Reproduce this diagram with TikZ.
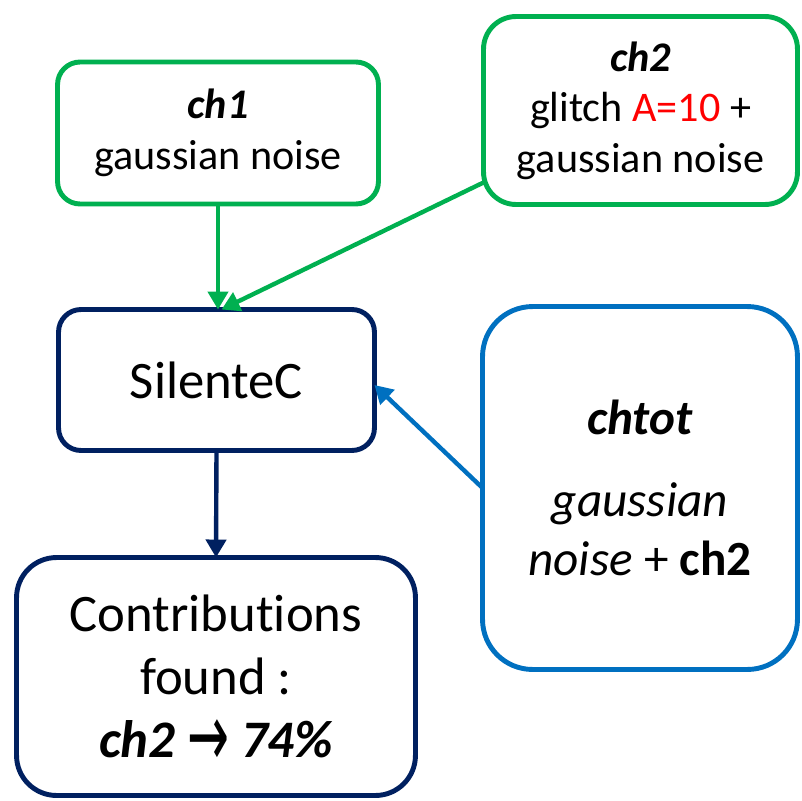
\documentclass[tikz,border=0pt]{standalone}
\usepackage{fontspec}
\setmainfont{Carlito}[Ligatures=NoCommon]
\newfontfamily\arrowfont{DejaVu Sans}
\usepackage{xcolor}
\usepackage{graphicx}
\usetikzlibrary{arrows.meta}
\definecolor{pptgreen}{RGB}{0,176,80}
\definecolor{pptnavy}{RGB}{0,32,96}
\definecolor{pptblue}{RGB}{0,112,192}
\definecolor{pptred}{RGB}{255,0,0}
\newcommand{\smalltext}{\fontsize{24}{28.8}\selectfont}
\newcommand{\midtext}{\fontsize{28}{33.6}\selectfont}
\newcommand{\bigtext}{\fontsize{30}{36}\selectfont}
\newcommand{\resarrow}{{\arrowfont\fontsize{46}{36}\selectfont\raisebox{-5pt}[16pt][0pt]{\scalebox{0.62}[1.1]{→}}}}
\tikzset{
    box/.style={
        draw,
        rectangle,
        line width=2.8pt,
        fill=white,
        align=center,
        inner sep=0mm,
        outer sep=0mm
    },
    inbox/.style={box,draw=pptgreen,rounded corners=0.45cm,font=\smalltext},
    algbox/.style={box,draw=pptnavy,rounded corners=0.45cm,font=\bigtext},
    totbox/.style={box,draw=pptblue,rounded corners=1.0cm,font=\midtext},
    resbox/.style={box,draw=pptnavy,rounded corners=0.8cm,font=\bigtext},
    link/.style={line width=2.5pt,-{Triangle[length=0.36cm,width=0.4cm]}}
}

\begin{document}
\begin{tikzpicture}[x=0.02cm,y=-0.02cm]
    \useasboundingbox (0,0) rectangle (802,801);
    \node[inbox,minimum width=6.42cm,minimum height=2.84cm] (ch1) at (218,133)
        {\textbf{\textit{ch1}}\\gaussian noise};
    \node[inbox,minimum width=6.28cm,minimum height=3.76cm,rounded corners=0.65cm] (ch2) at (640.5,110.5)
        {\textbf{\textit{ch2}}\\glitch \textcolor{pptred}{A=10} +\\gaussian noise};
    \node[algbox,minimum width=6.32cm,minimum height=2.82cm] (sil) at (216.5,380)
        {SilenteC};
    \node[totbox,minimum width=6.3cm,minimum height=7.26cm] (chtot) at (640,488)
        {\textbf{\textit{chtot}}\\[13pt]\textit{gaussian}\\\textit{noise} + \textbf{ch2}};
    \node[resbox,minimum width=7.98cm,minimum height=4.76cm] (res) at (216,676.5)
        {Contributions\\found :\\\textbf{\textit{ch2}} \resarrow{} \textbf{\textit{74\%}}};
    \draw[link,pptgreen] (ch1.south) -- (ch1.south |- sil.north);
    \draw[link,pptgreen] ([yshift=0.44cm]ch2.south west) -- ([xshift=0.1cm]sil.north);
    \draw[link,pptblue] (chtot.west) -- ([yshift=-0.1cm]sil.east);
    \draw[link,pptnavy] (sil.south) -- (res.north);
\end{tikzpicture}
\end{document}
